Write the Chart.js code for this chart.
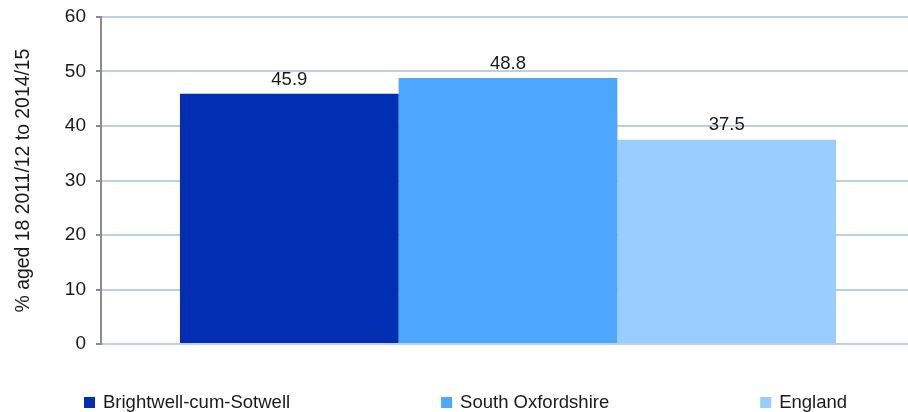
<!DOCTYPE html>
<html lang="en">
<head>
    <meta charset="UTF-8">
    <title>% aged 18</title>
    <style>
        html, body { margin: 0; padding: 0; background: #fff; overflow: hidden; }
        /* plot area runs a little past the right edge, as in the original */
        #wrap { position: relative; width: 915px; height: 412px; }
    </style>
</head>
<body>
    <div id="wrap"><canvas id="chart"></canvas></div>

    <script src="https://cdn.jsdelivr.net/npm/chart.js@4.4.1/dist/chart.umd.min.js"></script>
    <script>
        // values
        const areas = ['Brightwell-cum-Sotwell', 'South Oxfordshire', 'England'];
        const values = [45.9, 48.8, 37.5];
        const colours = ['#022fb2', '#4da6ff', '#99ccff'];
        const yTicks = [0, 10, 20, 30, 40, 50, 60];

        const FONT = '"Liberation Sans", Arial, sans-serif';
        Chart.defaults.font.family = FONT;
        Chart.defaults.font.size = 18.5;
        Chart.defaults.color = '#1a1a1a';

        // value labels above each bar
        const barLabels = {
            id: 'barLabels',
            afterDatasetsDraw(chart) {
                const ctx = chart.ctx;
                ctx.save();
                ctx.font = '18.5px ' + FONT;
                ctx.fillStyle = '#1a1a1a';
                ctx.textAlign = 'center';
                ctx.textBaseline = 'bottom';
                chart.data.datasets.forEach((ds, i) => {
                    const bar = chart.getDatasetMeta(i).data[0];
                    ctx.fillText(ds.data[0].toFixed(1), bar.x, bar.y - 5);
                });
                ctx.restore();
            }
        };

        // legend along the bottom, spread out like the original
        const bottomLegend = {
            id: 'bottomLegend',
            afterDraw(chart) {
                const ctx = chart.ctx;
                ctx.save();
                ctx.font = '18.5px ' + FONT;
                ctx.textBaseline = 'middle';
                ctx.textAlign = 'left';
                let x = 84;
                const y = 402;
                chart.data.datasets.forEach(ds => {
                    ctx.fillStyle = ds.backgroundColor;
                    ctx.fillRect(x, y - 5, 11, 11);
                    ctx.fillStyle = '#1a1a1a';
                    ctx.fillText(ds.label, x + 19, y + 1);
                    x += 19 + ctx.measureText(ds.label).width + 151;
                });
                ctx.restore();
            }
        };

        new Chart(document.getElementById('chart'), {
            type: 'bar',
            data: {
                labels: [''],
                datasets: areas.map((a, i) => ({
                    label: a,
                    data: [values[i]],
                    backgroundColor: colours[i],
                    borderWidth: 0,
                    categoryPercentage: 0.806,
                    barPercentage: 1
                }))
            },
            options: {
                responsive: true,
                maintainAspectRatio: false,
                animation: false,
                layout: { padding: { top: 17, right: 0, bottom: 68, left: 0 } },
                plugins: {
                    legend: { display: false },
                    tooltip: { enabled: false }
                },
                scales: {
                    x: { display: false },
                    y: {
                        min: 0,
                        max: 60,
                        afterFit(scale) {
                            scale.width = 101;
                            // let the layout padding alone decide the plot top/bottom
                            scale.paddingTop = 0;
                            scale.paddingBottom = 0;
                        },
                        afterBuildTicks(scale) { scale.ticks = yTicks.map(v => ({ value: v })); },
                        ticks: { padding: 10, color: '#1a1a1a', font: { size: 19 } },
                        grid: {
                            color: '#bccfe6',
                            lineWidth: 2,
                            tickLength: 5,
                            tickColor: '#8c8c8c',
                            tickWidth: 2
                        },
                        border: { display: true, color: '#8c8c8c', width: 2 },
                        title: {
                            display: true,
                            text: '% aged 18 2011/12 to 2014/15',
                            color: '#1a1a1a',
                            font: { size: 19.4 },
                            padding: { top: 12, bottom: 0 }
                        }
                    }
                }
            },
            plugins: [barLabels, bottomLegend]
        });
    </script>
</body>
</html>
